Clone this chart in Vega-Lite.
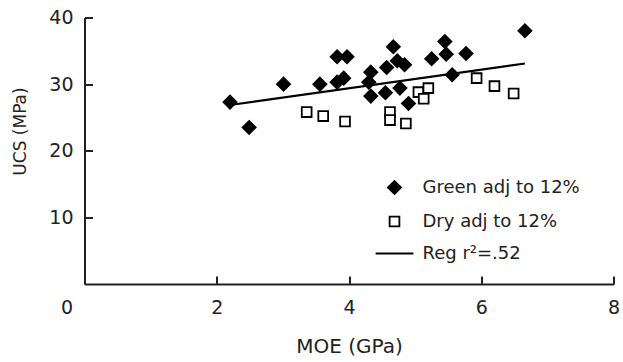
{
  "$schema": "https://vega.github.io/schema/vega-lite/v6.json",
  "width": 529,
  "height": 266.5,
  "autosize": {"type": "none"},
  "padding": {"left": 84.5, "top": 17.5, "right": 9.5, "bottom": 78},
  "background": "white",
  "config": {
    "view": {"stroke": null},
    "font": "DejaVu Sans",
    "axis": {
      "grid": false,
      "domainColor": "#222",
      "domainWidth": 2,
      "labelColor": "#222",
      "labelFont": "DejaVu Sans",
      "labelFontSize": 19,
      "titleColor": "#222",
      "titleFont": "DejaVu Sans",
      "titleFontWeight": "normal"
    },
    "legend": {
      "labelFont": "DejaVu Sans",
      "labelFontSize": 18,
      "labelColor": "#222",
      "padding": 0
    }
  },
  "encoding": {
    "x": {
      "field": "moe", "type": "quantitative",
      "scale": {"domain": [0, 8], "nice": false, "zero": false},
      "axis": {
        "values": [0, 2, 4, 6, 8],
        "format": "d",
        "ticks": true,
        "tickSize": -8,
        "tickColor": "#222",
        "tickWidth": 2,
        "labelFlush": false,
        "labelPadding": 22,
        "labelOffset": {"condition": {"test": "datum.value === 0", "value": -18}, "value": 0},
        "title": "MOE (GPa)",
        "titleFontSize": 20,
        "titleY": 68,
        "titleBaseline": "alphabetic"
      }
    },
    "y": {
      "field": "ucs", "type": "quantitative",
      "scale": {"domain": [0, 40], "nice": false, "zero": false},
      "axis": {
        "values": [10, 20, 30, 40],
        "format": "d",
        "ticks": true,
        "tickSize": -8,
        "tickColor": "#222",
        "tickWidth": 2,
        "labelFlush": false,
        "labelPadding": 19.5,
        "title": "UCS (MPa)",
        "titleFontSize": 17,
        "titleX": -59.5,
        "titleY": 113.5,
        "titleAlign": "center",
        "titleBaseline": "alphabetic"
      }
    }
  },
  "layer": [
    {
      "data": {
        "values": [
          {"moe": 2.20, "ucs": 27.3, "series": "Green adj to 12%"},
          {"moe": 2.49, "ucs": 23.5, "series": "Green adj to 12%"},
          {"moe": 3.01, "ucs": 30.0, "series": "Green adj to 12%"},
          {"moe": 3.56, "ucs": 30.0, "series": "Green adj to 12%"},
          {"moe": 3.82, "ucs": 30.3, "series": "Green adj to 12%"},
          {"moe": 3.92, "ucs": 30.9, "series": "Green adj to 12%"},
          {"moe": 3.82, "ucs": 34.1, "series": "Green adj to 12%"},
          {"moe": 3.97, "ucs": 34.1, "series": "Green adj to 12%"},
          {"moe": 4.33, "ucs": 31.8, "series": "Green adj to 12%"},
          {"moe": 4.30, "ucs": 30.3, "series": "Green adj to 12%"},
          {"moe": 4.33, "ucs": 28.2, "series": "Green adj to 12%"},
          {"moe": 4.55, "ucs": 28.7, "series": "Green adj to 12%"},
          {"moe": 4.67, "ucs": 35.6, "series": "Green adj to 12%"},
          {"moe": 4.57, "ucs": 32.5, "series": "Green adj to 12%"},
          {"moe": 4.73, "ucs": 33.5, "series": "Green adj to 12%"},
          {"moe": 4.84, "ucs": 32.9, "series": "Green adj to 12%"},
          {"moe": 4.77, "ucs": 29.4, "series": "Green adj to 12%"},
          {"moe": 4.90, "ucs": 27.1, "series": "Green adj to 12%"},
          {"moe": 5.25, "ucs": 33.8, "series": "Green adj to 12%"},
          {"moe": 5.45, "ucs": 36.4, "series": "Green adj to 12%"},
          {"moe": 5.47, "ucs": 34.5, "series": "Green adj to 12%"},
          {"moe": 5.56, "ucs": 31.4, "series": "Green adj to 12%"},
          {"moe": 5.77, "ucs": 34.6, "series": "Green adj to 12%"},
          {"moe": 6.66, "ucs": 38.0, "series": "Green adj to 12%"},
          {"moe": 3.36, "ucs": 25.8, "series": "Dry adj to 12%"},
          {"moe": 3.61, "ucs": 25.2, "series": "Dry adj to 12%"},
          {"moe": 3.94, "ucs": 24.4, "series": "Dry adj to 12%"},
          {"moe": 4.62, "ucs": 25.8, "series": "Dry adj to 12%"},
          {"moe": 4.62, "ucs": 24.6, "series": "Dry adj to 12%"},
          {"moe": 4.86, "ucs": 24.1, "series": "Dry adj to 12%"},
          {"moe": 5.05, "ucs": 28.8, "series": "Dry adj to 12%"},
          {"moe": 5.13, "ucs": 27.8, "series": "Dry adj to 12%"},
          {"moe": 5.20, "ucs": 29.4, "series": "Dry adj to 12%"},
          {"moe": 5.93, "ucs": 30.9, "series": "Dry adj to 12%"},
          {"moe": 6.20, "ucs": 29.7, "series": "Dry adj to 12%"},
          {"moe": 6.49, "ucs": 28.6, "series": "Dry adj to 12%"}
        ]
      },
      "mark": {"type": "point", "strokeWidth": 1.8, "opacity": 1, "fillOpacity": 1, "strokeOpacity": 1, "size": 170},
      "encoding": {
        "shape": {
          "field": "series", "type": "nominal",
          "scale": {
            "domain": ["Green adj to 12%", "Dry adj to 12%", "Reg r²=.52"],
            "range": ["diamond", "M-0.75,-0.75H0.75V0.75H-0.75Z", "M-2.9,0H2.9"]
          },
          "legend": {
            "title": null,
            "orient": "none",
            "legendX": 301,
            "legendY": 161,
            "symbolSize": 170,
            "symbolStrokeColor": "black",
            "symbolStrokeWidth": 1.8,
            "symbolOpacity": 1,
            "labelOffset": 19,
            "rowPadding": 14
          }
        },
        "fill": {
          "field": "series", "type": "nominal",
          "scale": {
            "domain": ["Green adj to 12%", "Dry adj to 12%", "Reg r²=.52"],
            "range": ["black", "white", "black"]
          },
          "legend": {"title": null}
        },
        "stroke": {
          "field": "series", "type": "nominal",
          "scale": {
            "domain": ["Green adj to 12%", "Dry adj to 12%", "Reg r²=.52"],
            "range": ["black", "black", "black"]
          },
          "legend": {"title": null}
        }
      }
    },
    {
      "data": {"values": [{"moe": 2.23, "ucs": 26.9}, {"moe": 6.66, "ucs": 33.1}]},
      "mark": {"type": "line", "color": "black", "strokeWidth": 2.2}
    }
  ]
}
